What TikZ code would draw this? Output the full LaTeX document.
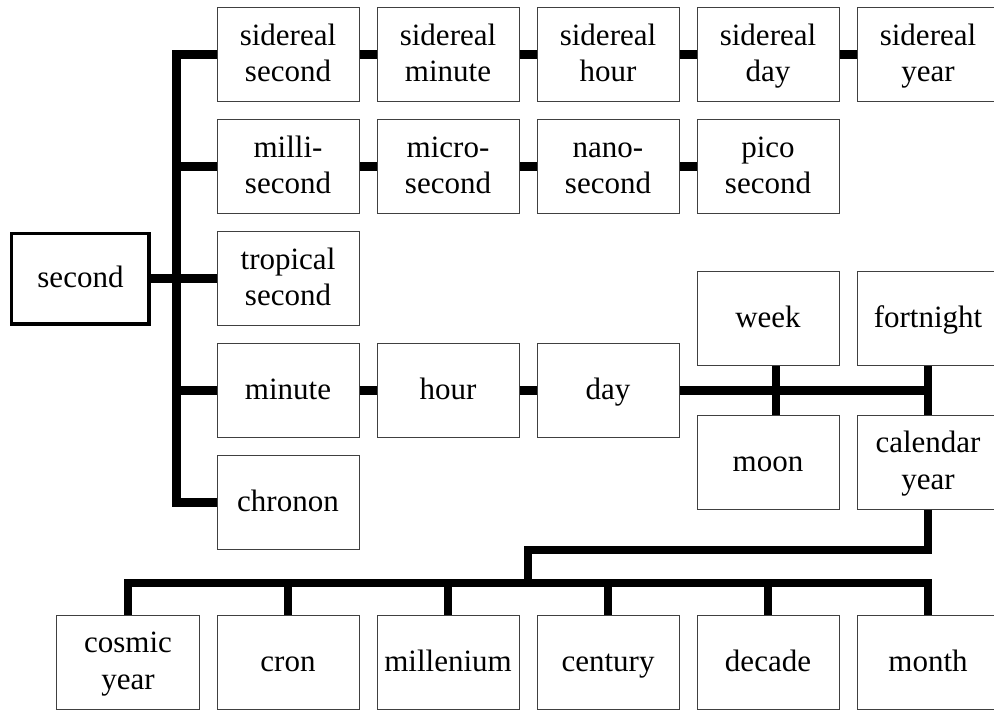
\documentclass[tikz,border=0pt]{standalone}
\usepackage{fontspec}
\setmainfont{Liberation Serif}

\begin{document}
\begin{tikzpicture}[x=80pt,y=-56pt]
  \tikzstyle{UnitStyle}=[draw=black!75,line width=0.5pt,minimum width=71pt,minimum height=47pt,inner sep=0pt,align=center,font=\fontsize{15.5}{18.4}\selectfont,text height=14pt,text depth=5pt]
  \tikzstyle{TwoStyle}=[UnitStyle,text height=32.4pt]
  \tikzstyle{RootStyle}=[UnitStyle,draw=black,line width=1.75pt,minimum width=68.75pt,minimum height=45.25pt]
  \tikzstyle{LinkStyle}=[line width=4.25pt,line join=miter]
  \useasboundingbox (-0.8,-0.487) rectangle (5.4125,5.844);
  \node[RootStyle] (sec) at (-0.297,2) {second};
  \node[TwoStyle] (sidsec) at (1,0) {sidereal\\second};
  \node[TwoStyle] (sidmin) at (2,0) {sidereal\\minute};
  \node[TwoStyle] (sidhr) at (3,0) {sidereal\\hour};
  \node[TwoStyle] (sidday) at (4,0) {sidereal\\day};
  \node[TwoStyle] (sidyr) at (5,0) {sidereal\\year};
  \node[TwoStyle] (msec) at (1,1) {milli-\\second};
  \node[TwoStyle] (usec) at (2,1) {micro-\\second};
  \node[TwoStyle] (nsec) at (3,1) {nano-\\second};
  \node[TwoStyle] (psec) at (4,1) {pico\\second};
  \node[TwoStyle] (trop) at (1,2) {tropical\\second};
  \node[UnitStyle] (minute) at (1,3) {minute};
  \node[UnitStyle] (hour) at (2,3) {hour};
  \node[UnitStyle] (day) at (3,3) {day};
  \node[UnitStyle] (week) at (4,2.36) {week};
  \node[UnitStyle] (fortnight) at (5,2.36) {fortnight};
  \node[UnitStyle] (moon) at (4,3.64) {moon};
  \node[TwoStyle] (calyear) at (5,3.64) {calendar\\year};
  \node[UnitStyle] (chronon) at (1,4) {chronon};
  \node[TwoStyle] (cosmic) at (0,5.424) {cosmic\\year};
  \node[UnitStyle] (cron) at (1,5.424) {cron};
  \node[UnitStyle] (millen) at (2,5.424) {millenium};
  \node[UnitStyle] (century) at (3,5.424) {century};
  \node[UnitStyle] (decade) at (4,5.424) {decade};
  \node[UnitStyle] (month) at (5,5.424) {month};
  \coordinate (trunk) at (0.303,4);
  \coordinate (up) at (2.5,4.424);
  \coordinate (bus) at (2.5,4.72);
  \draw[LinkStyle] (sidsec.west) -| (trunk) -- (chronon.west);
  \draw[LinkStyle] (sec.east) -- (sec.east -| trunk);
  \foreach \n in {msec,trop,minute}
    \draw[LinkStyle] (\n.west) -- (\n.west -| trunk);
  \foreach \a/\b in {sidsec/sidmin,sidmin/sidhr,sidhr/sidday,sidday/sidyr,msec/usec,usec/nsec,nsec/psec,minute/hour,hour/day}
    \draw[LinkStyle] (\a.east) -- (\b.west);
  \draw[LinkStyle] (day.east) -- (day.east -| fortnight.south);
  \draw[LinkStyle] ([xshift=4pt]week.south) -- ([xshift=4pt]moon.north);
  \draw[LinkStyle] (fortnight.south) -- (calyear.north);
  \draw[LinkStyle] (calyear.south) |- (up) -- (bus);
  \draw[LinkStyle] (cosmic.north) |- (bus) -| (month.north);
  \foreach \n in {cron,millen,century,decade}
    \draw[LinkStyle] (\n.north) -- (\n.north |- bus);
\end{tikzpicture}
\end{document}
